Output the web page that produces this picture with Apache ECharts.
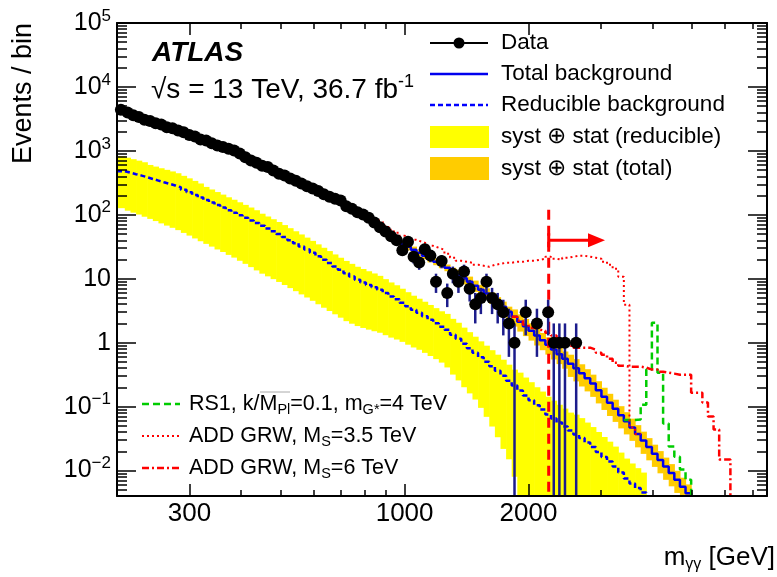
<!DOCTYPE html>
<html><head><meta charset="utf-8">
<script src="https://cdn.jsdelivr.net/npm/echarts@6/dist/echarts.min.js"></script>
<style>html,body{margin:0;padding:0;background:#fff}#c{width:777px;height:577px}</style>
</head><body><div id="c"></div><script>
// ---------------- data ----------------
const binEdges = [200.0,208.9,215.6,222.5,229.6,236.9,244.4,252.2,260.2,268.5,277.1,285.9,295.1,304.5,314.2,324.2,334.5,345.2,356.2,367.5,379.2,391.3,403.8,416.7,430.0,443.6,457.8,472.4,487.4,503.0,519.0,535.5,552.6,570.2,588.4,607.2,626.5,646.5,667.1,688.3,710.3,732.9,756.3,780.4,805.3,830.9,857.4,884.7,912.9,942.0,972.1,1003.3,1035.3,1068.3,1102.3,1137.4,1173.7,1211.1,1249.7,1289.6,1330.7,1373.1,1416.9,1462.0,1508.6,1556.7,1606.3,1657.5,1710.4,1764.9,1821.1,1879.2,1939.1,2000.9,2064.7,2130.5,2198.5,2268.5,2340.8,2415.4,2492.4,2571.8,2653.8,2738.5,2825.8,2915.9,3008.8,3104.7,3203.7,3305.8,3411.2,3519.9,3632.1,3747.9,3867.4,3990.7,4117.9,4249.1,4384.6,4524.4,4668.6,4817.4,4971.0,5129.5,5293.0,5461.7,5635.8,5815.5,6000.8,6192.1,6389.5,6593.2,6803.4,7020.2,7244.0,7474.9,7713.2];

// observed events per bin (bins 0..81)
const dataCounts = [4380,3990,3620,3390,3080,2930,2700,2580,2350,2250,
  2080,1960,1770,1680,1500,1450,1320,1210,1150,1080,
  1010,910,795,705,650,585,560,495,440,412,
  370,342,310,280,258,236,210,192,178,168,
  136,124,110,101,90,76,64,55,46,40,
  28,38,22,18,29,23,9,19,6,12,
  9,13,7,4,5,9,5,4,3,2,
  1,0,3,0,2,0,3,1,1,1,
  0,1];
// visible error-bar half lengths (bins 0..81)
const dataErr = [0,0,0,0,0,0,0,0,0,0, 0,0,0,0,0,0,0,0,0,0, 0,0,0,0,0,0,0,0,0,0,
  0,0,0,0,0,0,0,0,0,0, 0,0,0,0,0,0,0,0,0,0,
  5.3,6.2,4.7,4.2,5.4,4.8,3,4.4,2.4,3.5,
  3,3.6,2.6,2,2.2,3,2.2,2,1.7,1.4,
  1,0,1.7,0,1.4,0,1.7,1,1,1,
  0,1];

// total background (bins 0..101)
const totalBkg = [4246,3926,3651,3350,3105,2911,2718,2547,2371,2239,
  2099,1941,1787,1650,1518,1403,1310,1228,1155,1094,
  1014,898,791,713,649,589,537,487,445,410,
  374,340,309,281,253,229,211,194,178,158,
  143,128,115,103,90,78,66,56,47,40.6,
  35.2,31.6,28.4,25.5,22.9,20.5,18.5,16.6,14.9,13.3,
  11.5,10.2,9.0,7.8,6.7,5.9,5.05,4.3,3.65,3.05,
  2.55,2.13,1.81,1.54,1.29,1.09,0.93,0.78,0.66,0.56,
  0.47,0.40,0.333,0.279,0.229,0.181,0.143,0.115,0.093,0.0736,
  0.0593,0.047,0.0372,0.0294,0.0233,0.0184,0.0146,0.01155,0.00914,0.0072,
  0.0056,0.0044];
// relative syst+stat uncertainty of the total background (bins 30..101)
const totalErrStart = 30;
const totalRelErr = [0.07,0.07,0.07,0.07,0.07,0.07,0.07,0.07,0.07,0.07,
  0.07,0.07,0.07,0.07,0.07,0.07,0.07,0.07,0.07,0.07,
  0.12,0.12,0.12,0.12,0.12,0.12,0.12,0.12,0.12,0.12,
  0.2,0.2,0.2,0.2,0.2,0.2,0.2,0.2,0.2,0.2,
  0.3,0.3,0.3,0.3,0.3,0.3,0.3,0.3,0.3,0.3,
  0.38,0.38,0.38,0.38,0.38,0.38,0.38,0.38,0.38,0.38,0.38,
  0.38,0.38,0.38,0.38,0.38,0.38,0.38,0.38,0.38,0.38,0.38];

// reducible background (bins 0..93)
const reducibleBkg = [482,456,432,410,387,364,343,323,305,288,
  270,246,225,205,187,171,156,142,130,118,
  108,98.6,89.8,81.5,74.2,67.3,61.1,55.4,50.1,44.9,
  40.1,35.9,32.0,28.6,25.4,22.4,19.8,17.6,15.6,13.8,
  12.2,10.8,9.64,8.75,8.0,7.34,6.73,5.96,5.29,4.78,
  4.22,3.72,3.28,2.94,2.60,2.29,2.02,1.78,1.60,1.33,
  1.155,0.965,0.82,0.698,0.593,0.505,0.429,0.365,0.305,0.255,
  0.213,0.178,0.149,0.126,0.105,0.0898,0.075,0.0649,0.0562,0.0487,
  0.0422,0.0365,0.0322,0.0274,0.0233,0.0195,0.0163,0.0138,0.01155,0.0093,
  0.0075,0.00627,0.00533,0.00453];
const reducibleUp = [827,782,741,703,664,602,568,535,505,477,
  447,407,372,339,309,273,249,227,207,188,
  172,157,143,130,118,104,94.1,85.3,77.2,69.1,
  61.8,55.3,49.3,44.0,39.1,34.5,30.5,27.1,24.0,21.3,
  19.0,17.1,15.4,14.2,13.1,12.1,11.1,9.86,8.75,7.91,
  6.98,6.16,5.43,4.87,4.37,3.89,3.47,3.10,2.82,2.36,
  2.05,1.72,1.46,1.24,1.05,0.898,0.763,0.649,0.542,0.453,
  0.379,0.340,0.285,0.241,0.201,0.172,0.143,0.124,0.107,0.0931,
  0.0806,0.075,0.0661,0.0563,0.0479,0.0401,0.0335,0.0283,0.0237,0.0191,
  0.0154,0.0129,0.0109,0.0093];
const reducibleDown = [127,116,108,101,93.3,86.3,79.8,73.4,67.8,62.6,
  57.6,52.1,47.3,42.7,38.6,35.1,31.8,28.7,26.2,23.6,
  21.4,19.1,17.1,15.2,13.5,12.0,10.9,9.86,8.91,7.99,
  7.14,6.39,5.69,5.09,4.52,3.99,3.52,3.13,2.78,2.46,
  2.17,1.98,1.82,1.70,1.60,1.51,1.43,1.31,1.20,1.12,
  1.03,0.93,0.841,0.774,0.693,0.619,0.553,0.488,0.41,0.317,
  0.257,0.201,0.161,0.129,0.0956,0.0692,0.0488,0.0332,0.0218,0.015,
  0.008,0.001,0.001,0.001,0.001,0.001,0.001,0.001,0.001,0.001,
  0.001,0.001,0.001,0.001,0.001,0.001,0.001,0.001,0.001,0.001,
  0.001,0.001,0.001,0.001];

// signal + background hypotheses
const rs1Start = 90;
const rs1 = [0.062,0.062,0.063,0.107,0.379,2.05,0.34,0.0545,0.0237,0.0165,0.0104,0.0072];
const add35Start = 44;
const add35 = [93,83.6,78,67.6,58.5,52.4,
  47.0,43.7,40.6,37.8,35.2,32.7,30.5,28.4,24.6,21.3,
  19.1,18.4,17.8,16.5,16.0,15.4,16.5,17.1,17.8,17.8,
  18.4,18.4,19.1,19.1,19.8,20.5,22.1,20.5,19.8,21.3,
  22.1,22.9,22.9,22.1,21.3,20.5,18.4,16.5,14.3,10.7,
  3.93,0.047,0.0372];
const add6Start = 70;
const add6 = [2.55,2.21,1.91,1.71,1.60,1.54,1.43,1.29,1.155,1.04,
  0.898,0.835,0.835,0.835,0.778,0.698,0.649,0.562,0.487,0.437,
  0.422,0.422,0.422,0.407,0.379,0.379,0.352,0.34,0.328,0.316,
  0.316,0.316,0.1655,0.1655,0.1155,0.0698,0.0437,0.01485,0.01485];

// signal-region cut and annotation
const cutMass = 2240, cutLineTop = 120, arrowLevel = 40, arrowEndMass = 3070;

// axes
const X_MIN = 200, X_MAX = 7600, Y_MIN = 0.004, Y_MAX = 1e5;
const xMajorTicks = [300, 1000, 2000];
const xMinorTicks = [400, 500, 600, 700, 800, 900, 3000, 4000, 5000, 6000, 7000];
const yMajorTicks = [0.01, 0.1, 1, 10, 100, 1000, 10000, 100000];
const yMinorTicks = [];
[0.001, 0.01, 0.1, 1, 10, 100, 1000, 10000].forEach(d => {
  for (let m = 2; m <= 9; m++) { const v = +(m * d).toPrecision(3); if (v > Y_MIN && v < Y_MAX) yMinorTicks.push(v); }
});

// ---------------- rendering ----------------
const FONT = '"Liberation Sans", Arial, Helvetica, sans-serif';
const chart = echarts.init(document.getElementById('c'), null, { renderer: 'canvas', width: 777, height: 577 });

function stepPts(vals, k0, dropEnd) {
  const pts = [];
  for (let i = 0; i < vals.length; i++) {
    const k = k0 + i;
    pts.push([binEdges[k], vals[i]], [binEdges[k + 1], vals[i]]);
  }
  if (dropEnd) pts.push([binEdges[k0 + vals.length], Y_MIN]);
  return pts;
}
function lineSeries(name, pts, color, width, dash, z) {
  return { name, type: 'line', data: pts, xAxisIndex: 0, yAxisIndex: 0, showSymbol: false, symbol: 'none',
    lineStyle: { color, width, type: dash || 'solid', cap: 'butt' }, z, silent: true, animation: false, clip: true };
}
function bandSeries(lo, hi, k0, color, z) {
  const data = lo.map((l, i) => [binEdges[k0 + i], binEdges[k0 + i + 1], l, hi[i]]);
  return { type: 'custom', xAxisIndex: 0, yAxisIndex: 0, z, silent: true, animation: false, data,
    encode: { x: [0, 1], y: [2, 3] },
    renderItem: (params, api) => {
      const a = api.coord([api.value(0), api.value(3)]);
      const b = api.coord([api.value(1), api.value(2)]);
      const cs = params.coordSys;
      const r = echarts.graphic.clipRectByRect(
        { x: a[0], y: a[1], width: b[0] - a[0] + 0.6, height: b[1] - a[1] },
        { x: cs.x, y: cs.y, width: cs.width, height: cs.height });
      if (!r) return null;
      return { type: 'rect', shape: r, style: { fill: color } };
    } };
}

const center = k => Math.sqrt(binEdges[k] * binEdges[k + 1]);
const dataPts = [], errPts = [];
dataCounts.forEach((n, k) => {
  if (n > 0) {
    dataPts.push([center(k), n]);
    if (dataErr[k] > 0) errPts.push([center(k), Math.max(n - dataErr[k], Y_MIN), n + dataErr[k]]);
  }
});
const totLo = [], totHi = [];
totalRelErr.forEach((f, i) => { const t = totalBkg[totalErrStart + i]; totLo.push(t * (1 - f)); totHi.push(t * (1 + f)); });

function logAxis(extra) {
  return Object.assign({ type: 'log', logBase: 10, z: 10, silent: true,
    splitLine: { show: false }, minorTick: { show: false }, minorSplitLine: { show: false },
    axisLine: { show: false }, axisTick: { show: false }, axisLabel: { show: false } }, extra);
}
const axLine = { show: true, onZero: false, lineStyle: { color: '#000', width: 2 } };
const tickStyle = { color: '#000', width: 1.5 };
const yLabelRich = {
  b: { fontSize: 25, fontFamily: FONT, color: '#000' },
  s: { fontSize: 17, fontFamily: FONT, color: '#000', padding: [0, 0, 14, 0] }
};
const LEG = '22.5px ' + FONT;
const legRich = { n: { fontSize: 21.5, fontFamily: FONT, color: '#000' }, sub: { fontSize: 14.5, fontFamily: FONT, color: '#000', padding: [12, 0, 0, 0] } };

const option = {
  animation: false,
  backgroundColor: '#fff',
  grid: { left: 117, right: 10, top: 23, bottom: 81, containLabel: false, outerBoundsMode: 'none' },
  xAxis: [
    logAxis({ min: X_MIN, max: X_MAX, position: 'bottom', axisLine: axLine,
      axisTick: { show: true, inside: true, length: 12, customValues: xMajorTicks, lineStyle: tickStyle },
      axisLabel: { show: true, customValues: xMajorTicks, formatter: v => String(Math.round(v)),
        fontSize: 26, fontFamily: FONT, color: '#000', margin: 5 } }),
    logAxis({ min: X_MIN, max: X_MAX, position: 'bottom',
      axisTick: { show: true, inside: true, length: 6, customValues: xMinorTicks, lineStyle: tickStyle } }),
    logAxis({ min: X_MIN, max: X_MAX, position: 'top', axisLine: axLine,
      axisTick: { show: true, inside: true, length: 12, customValues: xMajorTicks, lineStyle: tickStyle } }),
    logAxis({ min: X_MIN, max: X_MAX, position: 'top',
      axisTick: { show: true, inside: true, length: 6, customValues: xMinorTicks, lineStyle: tickStyle } })
  ],
  yAxis: [
    logAxis({ min: Y_MIN, max: Y_MAX, position: 'left', axisLine: axLine,
      axisTick: { show: true, inside: true, length: 19, customValues: yMajorTicks, lineStyle: tickStyle },
      axisLabel: { show: true, customValues: yMajorTicks, margin: 6, rich: yLabelRich,
        formatter: v => { const e = Math.round(Math.log10(v)); if (e === 0) return '{b|1}'; if (e === 1) return '{b|10}';
          return '{b|10}{s|' + (e < 0 ? '\u2212' + (-e) : e) + '}'; } } }),
    logAxis({ min: Y_MIN, max: Y_MAX, position: 'left',
      axisTick: { show: true, inside: true, length: 10, customValues: yMinorTicks, lineStyle: tickStyle } }),
    logAxis({ min: Y_MIN, max: Y_MAX, position: 'right', axisLine: axLine,
      axisTick: { show: true, inside: true, length: 19, customValues: yMajorTicks, lineStyle: tickStyle } }),
    logAxis({ min: Y_MIN, max: Y_MAX, position: 'right',
      axisTick: { show: true, inside: true, length: 10, customValues: yMinorTicks, lineStyle: tickStyle } })
  ],
  series: [
    bandSeries(reducibleDown, reducibleUp, 0, '#ffff00', 1),
    bandSeries(totLo, totHi, totalErrStart, '#ffcc00', 2),
    lineSeries('Reducible background', stepPts(reducibleBkg, 0, true), '#0000ff', 2.5, [5, 3], 3),
    lineSeries('Total background', stepPts(totalBkg, 0, true), '#0000ee', 2.5, 'solid', 4),
    lineSeries('RS1', stepPts(rs1, rs1Start, true), '#00cc00', 2.5, [7, 4], 5),
    lineSeries('ADD 3.5', stepPts(add35, add35Start, false), '#ff0000', 2, [2, 3], 5),
    lineSeries('ADD 6', stepPts(add6, add6Start, true), '#ff0000', 2.5, [7, 3, 2, 3], 5),
    { type: 'custom', xAxisIndex: 0, yAxisIndex: 0, z: 6, silent: true, animation: false,
      data: [[cutMass, cutLineTop, arrowLevel, arrowEndMass]],
      renderItem: (params, api) => {
        const top = api.coord([api.value(0), api.value(1)]);
        const bot = api.coord([api.value(0), Y_MIN]);
        const a0 = api.coord([api.value(0), api.value(2)]);
        const a1 = api.coord([api.value(3), api.value(2)]);
        return { type: 'group', children: [
          { type: 'line', shape: { x1: top[0], y1: top[1], x2: bot[0], y2: bot[1] }, style: { stroke: '#ff0000', lineWidth: 3, lineDash: [10, 6] } },
          { type: 'line', shape: { x1: a0[0], y1: a0[1] - 7, x2: a0[0], y2: a0[1] + 7 }, style: { stroke: '#ff0000', lineWidth: 3 } },
          { type: 'line', shape: { x1: a0[0], y1: a0[1], x2: a1[0] - 14, y2: a1[1] }, style: { stroke: '#ff0000', lineWidth: 3 } },
          { type: 'polygon', shape: { points: [[a1[0], a1[1]], [a1[0] - 17, a1[1] - 7], [a1[0] - 17, a1[1] + 7]] }, style: { fill: '#ff0000' } }
        ] };
      } },
    { type: 'custom', xAxisIndex: 0, yAxisIndex: 0, z: 7, silent: true, animation: false, data: errPts,
      encode: { x: 0, y: [1, 2] },
      renderItem: (params, api) => {
        const p1 = api.coord([api.value(0), api.value(1)]);
        const p2 = api.coord([api.value(0), api.value(2)]);
        return { type: 'line', shape: { x1: p1[0], y1: p1[1], x2: p2[0], y2: p2[1] }, style: { stroke: '#1c1c8c', lineWidth: 2.5 } };
      } },
    { name: 'Data', type: 'scatter', xAxisIndex: 0, yAxisIndex: 0, z: 8, silent: true, animation: false,
      data: dataPts, symbol: 'circle', symbolSize: 12, itemStyle: { color: '#000', opacity: 1 } }
  ],
  graphic: [
    { type: 'text', x: 152, y: 53, z: 20, style: { text: 'ATLAS', font: 'italic bold 28px ' + FONT, fill: '#000', verticalAlign: 'middle' } },
    { type: 'text', x: 151, y: 90, z: 20, style: { text: '{n|\u221As = 13 TeV, 36.7 fb}{sup|-1}', verticalAlign: 'middle', fill: '#000',
      rich: { n: { fontSize: 28, fontFamily: FONT, color: '#000' }, sup: { fontSize: 18, fontFamily: FONT, color: '#000', padding: [0, 0, 15, 0] } } } },
    // legend (top right)
    { type: 'line', z: 20, shape: { x1: 430, y1: 43, x2: 488, y2: 43 }, style: { stroke: '#000', lineWidth: 2 } },
    { type: 'circle', z: 20, shape: { cx: 459, cy: 43, r: 5.5 }, style: { fill: '#000' } },
    { type: 'text', x: 501, y: 43, z: 20, style: { text: 'Data', font: LEG, fill: '#000', verticalAlign: 'middle' } },
    { type: 'line', z: 20, shape: { x1: 430, y1: 74, x2: 488, y2: 74 }, style: { stroke: '#0000ee', lineWidth: 2.5 } },
    { type: 'text', x: 501, y: 74, z: 20, style: { text: 'Total background', font: LEG, fill: '#000', verticalAlign: 'middle' } },
    { type: 'line', z: 20, shape: { x1: 430, y1: 105, x2: 488, y2: 105 }, style: { stroke: '#0000ff', lineWidth: 2.5, lineDash: [5, 3] } },
    { type: 'text', x: 501, y: 105, z: 20, style: { text: 'Reducible background', font: LEG, fill: '#000', verticalAlign: 'middle' } },
    { type: 'rect', z: 20, shape: { x: 430, y: 126, width: 59, height: 22 }, style: { fill: '#ffff00' } },
    { type: 'text', x: 501, y: 137, z: 20, style: { text: 'syst \u2295 stat (reducible)', font: LEG, fill: '#000', verticalAlign: 'middle' } },
    { type: 'rect', z: 20, shape: { x: 430, y: 157, width: 59, height: 23 }, style: { fill: '#ffcc00' } },
    { type: 'text', x: 501, y: 168.5, z: 20, style: { text: 'syst \u2295 stat (total)', font: LEG, fill: '#000', verticalAlign: 'middle' } },
    // legend (bottom left)
    { type: 'line', z: 20, shape: { x1: 142, y1: 404, x2: 180, y2: 404 }, style: { stroke: '#00cc00', lineWidth: 2.5, lineDash: [7, 4] } },
    { type: 'text', x: 189, y: 404, z: 20, style: { text: '{n|RS1, k/M}{sub|Pl}{n|=0.1, m}{sub|G*}{n|=4 TeV}', verticalAlign: 'middle', rich: legRich } },
    { type: 'line', z: 20, shape: { x1: 260, y1: 392, x2: 290, y2: 392 }, style: { stroke: '#aaaaaa', lineWidth: 1 } },
    { type: 'line', z: 20, shape: { x1: 142, y1: 436, x2: 180, y2: 436 }, style: { stroke: '#ff0000', lineWidth: 2, lineDash: [2, 3] } },
    { type: 'text', x: 189, y: 436, z: 20, style: { text: '{n|ADD GRW, M}{sub|S}{n|=3.5 TeV}', verticalAlign: 'middle', rich: legRich } },
    { type: 'line', z: 20, shape: { x1: 142, y1: 468, x2: 180, y2: 468 }, style: { stroke: '#ff0000', lineWidth: 2.5, lineDash: [7, 3, 2, 3] } },
    { type: 'text', x: 189, y: 468, z: 20, style: { text: '{n|ADD GRW, M}{sub|S}{n|=6 TeV}', verticalAlign: 'middle', rich: legRich } },
    // axis titles
    { type: 'text', x: 24, y: 23, rotation: Math.PI / 2, z: 20, style: { text: 'Events / bin', font: '27px ' + FONT, fill: '#000', align: 'right', verticalAlign: 'middle' } },
    { type: 'text', x: 775, y: 558, z: 20, style: { text: '{n|m}{sub|\u03B3\u03B3}{n| [GeV]}', align: 'right', verticalAlign: 'middle',
      rich: { n: { fontSize: 26, fontFamily: FONT, color: '#000' }, sub: { fontSize: 16, fontFamily: FONT, color: '#000', padding: [14, 0, 0, 0] } } } }
  ]
};
chart.setOption(option);
</script></body></html>
